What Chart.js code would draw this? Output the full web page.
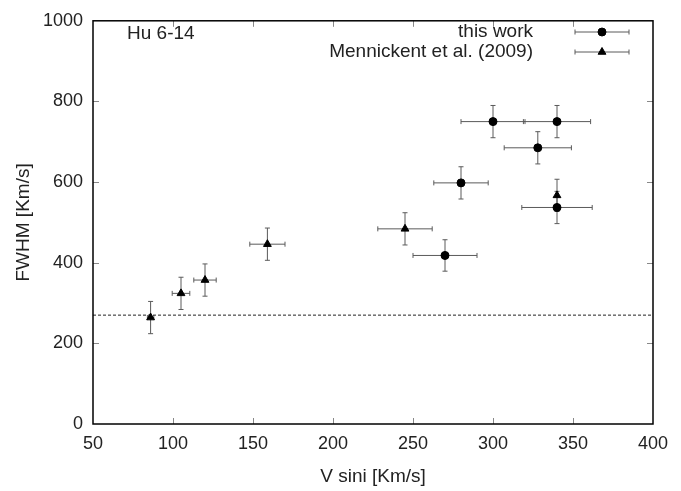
<!DOCTYPE html>
<html lang="en">
<head>
    <meta charset="UTF-8">
    <title>Hu 6-14 - FWHM vs V sini</title>
    <style>
        body {
            margin: 0;
            padding: 0;
            background: #ffffff;
        }

        .chart-box {
            width: 681px;
            height: 491px;
        }
    </style>
</head>
<body>

    <div class="chart-box">
        <canvas id="fwhmChart" width="681" height="491"></canvas>
    </div>

    <script src="https://cdn.jsdelivr.net/npm/chart.js"></script>
    <script>
        // Data
        const workVsini = [300, 340, 328, 280, 340, 270];
        const workVsiniErr = [20, 21, 21, 17, 22, 20];
        const workFwhm = [750, 750, 685, 598, 537, 418];
        const workFwhmErr = [40, 40, 40, 40, 40, 39];

        const menVsini = [86, 105, 120, 159, 245, 340];
        const menVsiniErr = [2, 5.5, 7, 11, 17, 0];
        const menFwhm = [264, 324, 357, 446, 484, 567];
        const menFwhmErr = [40, 40, 40, 40, 40, 40];

        const xMin = 50, xMax = 400, xStep = 50;
        const yMin = 0, yMax = 1000, yStep = 200;
        const thresholdFwhm = 270;

        const legendLabels = ['this work', 'Mennickent et al. (2009)'];
        const panelLabel = 'Hu 6-14';

        const FONT = '"Liberation Sans", Arial, Helvetica, sans-serif';
        const TEXT = '#222';
        const ERR = '#5a5a5a';

        function toPoints(xs, ys) {
            return xs.map((x, i) => ({ x: x, y: ys[i] }));
        }

        // Error bars, drawn under the markers
        const errorBars = {
            id: 'errorBars',
            beforeDatasetsDraw(chart) {
                const ctx = chart.ctx;
                const xs = chart.scales.x, ys = chart.scales.y;
                const cap = 2.5;
                ctx.save();
                ctx.strokeStyle = ERR;
                ctx.lineWidth = 1;
                chart.data.datasets.forEach(ds => {
                    if (!ds.errX) return;
                    ds.data.forEach((p, i) => {
                        const px = xs.getPixelForValue(p.x);
                        const py = ys.getPixelForValue(p.y);
                        const ex = ds.errX[i], ey = ds.errY[i];
                        ctx.beginPath();
                        if (ex > 0) {
                            const x0 = xs.getPixelForValue(p.x - ex);
                            const x1 = xs.getPixelForValue(p.x + ex);
                            ctx.moveTo(x0, py); ctx.lineTo(x1, py);
                            ctx.moveTo(x0, py - cap); ctx.lineTo(x0, py + cap);
                            ctx.moveTo(x1, py - cap); ctx.lineTo(x1, py + cap);
                        }
                        if (ey > 0) {
                            const y0 = ys.getPixelForValue(p.y - ey);
                            const y1 = ys.getPixelForValue(p.y + ey);
                            ctx.moveTo(px, y0); ctx.lineTo(px, y1);
                            ctx.moveTo(px - cap, y0); ctx.lineTo(px + cap, y0);
                            ctx.moveTo(px - cap, y1); ctx.lineTo(px + cap, y1);
                        }
                        ctx.stroke();
                    });
                });
                ctx.restore();
            }
        };

        // Frame, inward ticks, legend and panel label (gnuplot look)
        const frameAndLegend = {
            id: 'frameAndLegend',
            afterDraw(chart) {
                const ctx = chart.ctx;
                const a = chart.chartArea;
                const xs = chart.scales.x, ys = chart.scales.y;
                const tl = 6;
                ctx.save();

                // inward tick marks
                ctx.strokeStyle = '#888';
                ctx.lineWidth = 1;
                ctx.beginPath();
                xs.ticks.forEach(t => {
                    if (t.value <= xMin || t.value >= xMax) return;
                    const px = Math.round(xs.getPixelForValue(t.value)) + 0.5;
                    ctx.moveTo(px, a.bottom); ctx.lineTo(px, a.bottom - tl);
                    ctx.moveTo(px, a.top); ctx.lineTo(px, a.top + tl);
                });
                ys.ticks.forEach(t => {
                    if (t.value <= yMin || t.value >= yMax) return;
                    const py = Math.round(ys.getPixelForValue(t.value)) + 0.5;
                    ctx.moveTo(a.left, py); ctx.lineTo(a.left + tl, py);
                    ctx.moveTo(a.right, py); ctx.lineTo(a.right - tl, py);
                });
                ctx.stroke();

                // frame
                ctx.strokeStyle = '#000';
                ctx.lineWidth = 1.5;
                ctx.strokeRect(a.left, a.top, a.right - a.left, a.bottom - a.top);

                // panel label
                ctx.fillStyle = TEXT;
                ctx.font = '19px ' + FONT;
                ctx.textBaseline = 'middle';
                ctx.textAlign = 'left';
                ctx.fillText(panelLabel, 127, 34);

                // legend
                const rows = [
                    { y: 32, style: 'circle', r: 4 },
                    { y: 52, style: 'triangle', r: 4.5 }
                ];
                rows.forEach((row, i) => {
                    ctx.fillStyle = TEXT;
                    ctx.textAlign = 'right';
                    ctx.fillText(legendLabels[i], 533, row.y);
                    ctx.strokeStyle = ERR;
                    ctx.lineWidth = 1;
                    ctx.beginPath();
                    ctx.moveTo(575, row.y); ctx.lineTo(629, row.y);
                    ctx.moveTo(575, row.y - 2.5); ctx.lineTo(575, row.y + 2.5);
                    ctx.moveTo(629, row.y - 2.5); ctx.lineTo(629, row.y + 2.5);
                    ctx.stroke();
                    ctx.fillStyle = '#000';
                    ctx.strokeStyle = '#000';
                    Chart.helpers.drawPoint(ctx, { pointStyle: row.style, radius: row.r, borderWidth: 1 }, 602, row.y);
                });
                ctx.restore();
            }
        };

        const ctx = document.getElementById('fwhmChart').getContext('2d');

        const config = {
            type: 'scatter',
            data: {
                datasets: [
                    {
                        label: legendLabels[0],
                        data: toPoints(workVsini, workFwhm),
                        errX: workVsiniErr,
                        errY: workFwhmErr,
                        pointStyle: 'circle',
                        pointRadius: 4,
                        backgroundColor: '#000',
                        borderColor: '#000',
                        borderWidth: 1
                    },
                    {
                        label: legendLabels[1],
                        data: toPoints(menVsini, menFwhm),
                        errX: menVsiniErr,
                        errY: menFwhmErr,
                        pointStyle: 'triangle',
                        pointRadius: 4.5,
                        backgroundColor: '#000',
                        borderColor: '#000',
                        borderWidth: 1
                    },
                    {
                        label: 'threshold',
                        data: [{ x: xMin, y: thresholdFwhm }, { x: xMax, y: thresholdFwhm }],
                        showLine: true,
                        pointRadius: 0,
                        borderColor: '#222',
                        borderWidth: 1,
                        borderDash: [3, 2]
                    }
                ]
            },
            options: {
                responsive: false,
                animation: false,
                layout: {
                    padding: { top: 14, right: 28, left: 0, bottom: 0 }
                },
                plugins: {
                    legend: { display: false },
                    tooltip: { enabled: false }
                },
                scales: {
                    x: {
                        type: 'linear',
                        min: xMin,
                        max: xMax,
                        afterFit: scale => { scale.height = 67; },
                        grid: { display: false, drawTicks: false },
                        border: { display: false },
                        ticks: {
                            stepSize: xStep,
                            padding: 9,
                            color: TEXT,
                            maxRotation: 0,
                            callback: v => String(v),
                            font: { family: FONT, size: 18 }
                        },
                        title: {
                            display: true,
                            text: 'V sini [Km/s]',
                            color: TEXT,
                            padding: { top: 0, bottom: 3 },
                            font: { family: FONT, size: 19 }
                        }
                    },
                    y: {
                        type: 'linear',
                        min: yMin,
                        max: yMax,
                        afterFit: scale => { scale.width = 93; },
                        grid: { display: false, drawTicks: false },
                        border: { display: false },
                        ticks: {
                            stepSize: yStep,
                            padding: 10,
                            color: TEXT,
                            callback: v => String(v),
                            font: { family: FONT, size: 18 }
                        },
                        title: {
                            display: true,
                            text: 'FWHM [Km/s]',
                            color: TEXT,
                            padding: { top: 12, bottom: 0 },
                            font: { family: FONT, size: 19 }
                        }
                    }
                }
            },
            plugins: [errorBars, frameAndLegend]
        };

        const fwhmChart = new Chart(ctx, config);
    </script>

</body>
</html>
